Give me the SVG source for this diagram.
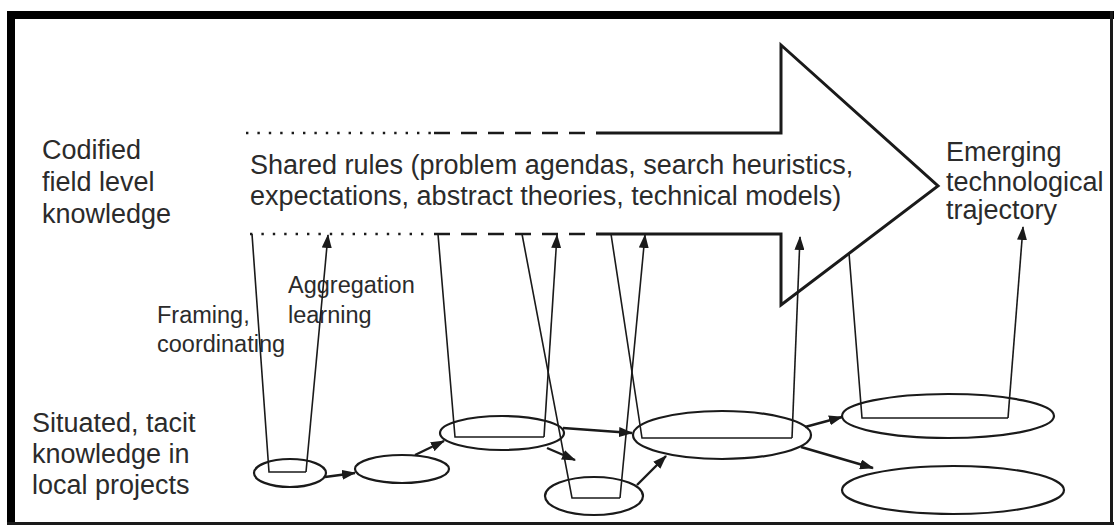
<svg xmlns="http://www.w3.org/2000/svg" width="1114" height="528" viewBox="0 0 1114 528">
<defs>
<style>
.t{font-family:"Liberation Sans",Arial,sans-serif;font-size:27px;fill:#2b2b2b}
.s{font-family:"Liberation Sans",Arial,sans-serif;font-size:23.5px;fill:#2b2b2b}
.f{fill:none;stroke:#1a1a1a;stroke-width:1.6}
.e{fill:none;stroke:#1a1a1a;stroke-width:2.2}
.c{fill:none;stroke:#1a1a1a;stroke-width:2.4}
.dot{fill:none;stroke:#1a1a1a;stroke-width:2.4;stroke-dasharray:2.4 9;stroke-linecap:butt}
.dash{fill:none;stroke:#1a1a1a;stroke-width:2.6;stroke-dasharray:16 11}
</style>
<marker id="ah" viewBox="0 0 14 10" refX="13" refY="5" markerWidth="14" markerHeight="10" markerUnits="userSpaceOnUse" orient="auto">
<path d="M0,0 L14,5 L0,10 Z" fill="#1a1a1a"/>
</marker>
</defs>
<rect x="0" y="0" width="1114" height="528" fill="#ffffff"/>
<g id="frame">
<rect x="7" y="11" width="1107" height="8" fill="#000"/>
<rect x="7" y="11" width="8" height="514" fill="#000"/>
<rect x="1110" y="11" width="3" height="514" fill="#1a1a1a"/>
<rect x="7" y="522" width="1107" height="3" fill="#1a1a1a"/>
</g>
<g id="band">
<line class="dot" x1="246" y1="133" x2="432" y2="133"/>
<line class="dash" x1="434" y1="133" x2="595" y2="133"/>
<line class="dot" x1="250" y1="234" x2="432" y2="234"/>
<line class="dash" x1="434" y1="234" x2="595" y2="234"/>
<path d="M596,133 L781,133 L781,45 L938,186 L781,305 L781,234 L596,234" fill="none" stroke="#1a1a1a" stroke-width="3" stroke-linejoin="miter"/>
<text class="t" x="250" y="174">Shared rules (problem agendas, search heuristics,</text>
<text class="t" x="250" y="205">expectations, abstract theories, technical models)</text>
</g>
<g id="label-codified">
<text class="t" x="42" y="159">Codified</text>
<text class="t" x="42" y="191">field level</text>
<text class="t" x="42" y="223">knowledge</text>
</g>
<g id="label-situated">
<text class="t" x="32" y="432">Situated, tacit</text>
<text class="t" x="32" y="463">knowledge in</text>
<text class="t" x="32" y="494">local projects</text>
</g>
<g id="label-emerging">
<text class="t" x="946" y="161">Emerging</text>
<text class="t" x="946" y="191">technological</text>
<text class="t" x="946" y="219">trajectory</text>
</g>
<g id="label-framing">
<text class="s" x="157" y="323">Framing,</text>
<text class="s" x="157" y="352">coordinating</text>
</g>
<g id="label-aggregation">
<text class="s" x="288" y="293">Aggregation</text>
<text class="s" x="288" y="323">learning</text>
</g>
<g id="node1">
<ellipse class="e" cx="290" cy="473" rx="36" ry="14"/>
<path class="f" d="M252,234 L269,472 L306,472"/>
</g>
<g id="node2">
<ellipse class="e" cx="402" cy="469" rx="47" ry="14"/>
</g>
<g id="node3">
<ellipse class="e" cx="502" cy="433" rx="62" ry="17"/>
<path class="f" d="M438,234 L455,437 L544,437"/>
</g>
<g id="node4">
<ellipse class="e" cx="594" cy="496" rx="49" ry="19"/>
<path class="f" d="M522,234 L572,498 L620,498"/>
</g>
<g id="node5">
<ellipse class="e" cx="722" cy="435" rx="89" ry="24"/>
<path class="f" d="M611,234 L642,438 L792,438"/>
</g>
<g id="node6">
<ellipse class="e" cx="948" cy="416" rx="106" ry="22"/>
<path class="f" d="M849,253 L862,418 L1008,418"/>
</g>
<g id="node7">
<ellipse class="e" cx="953" cy="490" rx="111" ry="24"/>
</g>
<g id="connectors">
<line class="f" x1="306" y1="472" x2="328" y2="235" marker-end="url(#ah)"/>
<line class="f" x1="544" y1="437" x2="557" y2="235" marker-end="url(#ah)"/>
<line class="f" x1="620" y1="498" x2="645" y2="235" marker-end="url(#ah)"/>
<line class="f" x1="792" y1="438" x2="800" y2="237" marker-end="url(#ah)"/>
<line class="f" x1="1008" y1="418" x2="1023" y2="227" marker-end="url(#ah)"/>
<line class="c" x1="325" y1="477" x2="355" y2="473" marker-end="url(#ah)"/>
<line class="c" x1="415" y1="455" x2="444" y2="441" marker-end="url(#ah)"/>
<line class="c" x1="563" y1="428" x2="632" y2="433" marker-end="url(#ah)"/>
<line class="c" x1="547" y1="448" x2="575" y2="460" marker-end="url(#ah)"/>
<line class="c" x1="637" y1="485" x2="666" y2="456" marker-end="url(#ah)"/>
<line class="c" x1="805" y1="427" x2="842" y2="417" marker-end="url(#ah)"/>
<line class="c" x1="801" y1="447" x2="873" y2="468" marker-end="url(#ah)"/>
</g>
</svg>
